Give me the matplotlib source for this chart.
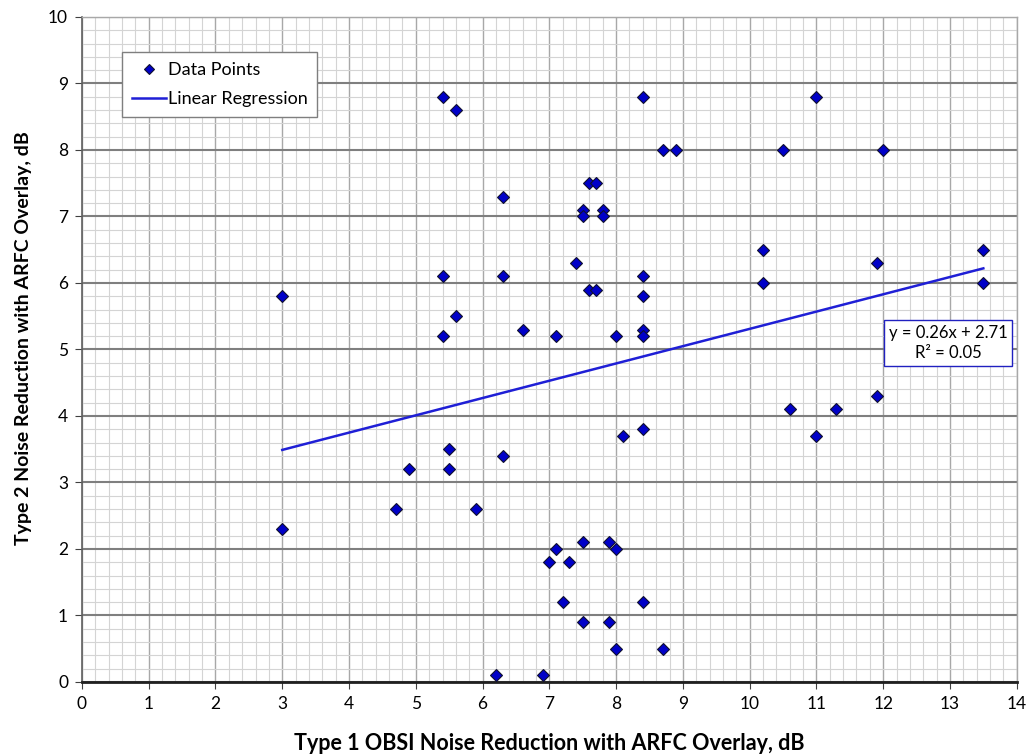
import numpy as np
import matplotlib.pyplot as plt
from matplotlib.ticker import MultipleLocator

plt.rcParams['font.family'] = ['Lato', 'DejaVu Sans']

# data
x_type1 = [3.0, 3.0, 5.4, 5.6, 8.4, 11.0, 8.7, 8.9, 10.5, 12.0,
           6.3, 7.6, 7.7, 7.5, 7.5, 7.8, 7.8, 7.4, 5.4, 6.3, 8.4,
           7.6, 7.7, 8.4, 5.6, 5.4, 6.6, 7.1, 8.0, 8.4, 8.4,
           10.2, 10.2, 11.9, 13.5, 13.5, 10.6, 11.3, 11.9, 11.0,
           8.1, 8.4, 5.5, 5.5, 4.9, 6.3, 4.7, 5.9,
           7.1, 7.0, 7.3, 7.5, 7.9, 8.0, 7.2, 8.4, 7.5, 7.9, 8.0, 8.7, 6.2, 6.9]
y_type2 = [5.8, 2.3, 8.8, 8.6, 8.8, 8.8, 8.0, 8.0, 8.0, 8.0,
           7.3, 7.5, 7.5, 7.1, 7.0, 7.1, 7.0, 6.3, 6.1, 6.1, 6.1,
           5.9, 5.9, 5.8, 5.5, 5.2, 5.3, 5.2, 5.2, 5.3, 5.2,
           6.5, 6.0, 6.3, 6.5, 6.0, 4.1, 4.1, 4.3, 3.7,
           3.7, 3.8, 3.5, 3.2, 3.2, 3.4, 2.6, 2.6,
           2.0, 1.8, 1.8, 2.1, 2.1, 2.0, 1.2, 1.2, 0.9, 0.9, 0.5, 0.5, 0.1, 0.1]

# regression as printed on the chart
slope = 0.26
intercept = 2.71
r_squared = 0.05

fig = plt.figure(figsize=(10.27, 7.55), dpi=100)
ax = fig.add_axes([0.0798, 0.0967, 0.9102, 0.8808])

ax.set_xlim(0, 14)
ax.set_ylim(0, 10)
ax.xaxis.set_major_locator(MultipleLocator(1))
ax.yaxis.set_major_locator(MultipleLocator(1))
ax.xaxis.set_minor_locator(MultipleLocator(0.2))
ax.yaxis.set_minor_locator(MultipleLocator(0.2))

# grid
ax.grid(which='minor', color='#d4d4d4', linewidth=0.8)
ax.grid(which='major', axis='x', color='#a8a8a8', linewidth=1.0)
ax.grid(which='major', axis='y', color='#7f7f7f', linewidth=1.5)
ax.set_axisbelow(True)

# regression line
x_fit = np.array([min(x_type1), max(x_type1)])
ax.plot(x_fit, slope * x_fit + intercept, color='#1f1fd6', linewidth=1.8,
        label='Linear Regression', zorder=3)

ax.plot(x_type1, y_type2, linestyle='none', marker='D', markersize=6.3,
        markerfacecolor='#0000c8', markeredgecolor='#101030', markeredgewidth=0.8,
        label='Data Points', zorder=4)

ax.text(12.97, 5.1, f"y = {slope:.2f}x + {intercept:.2f}\nR\u00b2 = {r_squared:.2f}",
        ha='center', va='center', fontsize=12, linespacing=1.35,
        bbox=dict(boxstyle='square,pad=0.3', facecolor='white', edgecolor='#2020c0', linewidth=1.0),
        zorder=5)

handles, labels = ax.get_legend_handles_labels()
leg = ax.legend(handles[::-1], labels[::-1], loc='upper left', bbox_to_anchor=(0.0425, 0.9475),
                fontsize=13, fancybox=False, framealpha=1, edgecolor='#7f7f7f',
                handlelength=1.9, handletextpad=0.1, borderpad=0.55, labelspacing=0.75,
                borderaxespad=0, markerscale=0.85)
leg.get_frame().set_linewidth(1.0)

for side in ['top', 'right']:
    ax.spines[side].set_color('#a8a8a8')
    ax.spines[side].set_linewidth(1.0)
ax.spines['left'].set_color('#606060')
ax.spines['left'].set_linewidth(1.2)
ax.spines['bottom'].set_color('#202020')
ax.spines['bottom'].set_linewidth(2.0)

ax.tick_params(axis='both', which='major', labelsize=12.5, length=5, color='#404040', pad=5)
ax.tick_params(axis='both', which='minor', length=0)

ax.set_xlabel('Type 1 OBSI Noise Reduction with ARFC Overlay, dB', fontsize=15.5,
              fontweight='bold', labelpad=15)
ax.set_ylabel('Type 2 Noise Reduction with ARFC Overlay, dB', fontsize=14,
              fontweight='bold')
ax.yaxis.set_label_coords(-0.053, 0.517)

fig.savefig('out.png', dpi=100)
